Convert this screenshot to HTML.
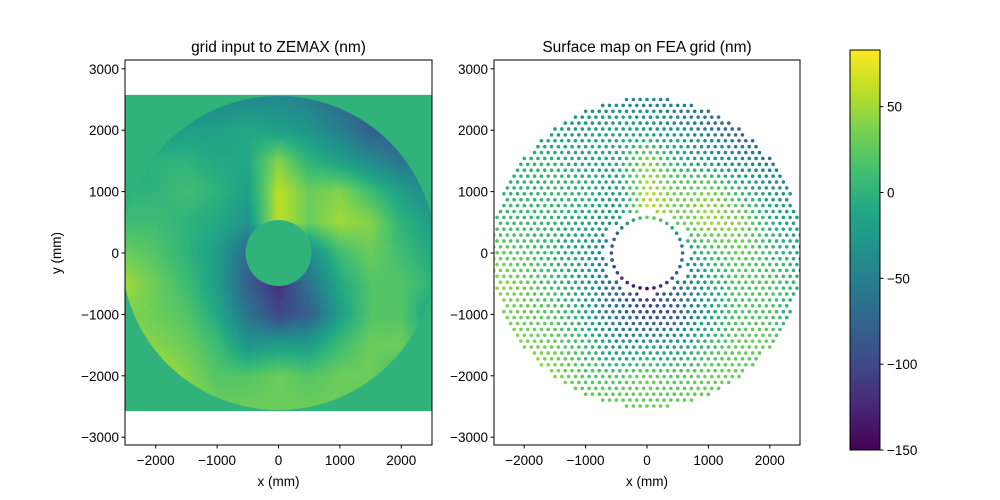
<!DOCTYPE html>
<html><head><meta charset="utf-8"><style>
body{margin:0;background:#fff;}
svg{display:block;font-family:"Liberation Sans","DejaVu Sans",sans-serif;}
</style></head><body>
<svg id="fig" width="1000" height="500" viewBox="0 0 1000 500">
<defs>
<clipPath id="clipL"><rect x="125" y="60" width="307" height="385"/></clipPath>
<clipPath id="clipR"><rect x="494" y="60" width="306" height="385"/></clipPath>
<clipPath id="clipAnn"><path clip-rule="evenodd" d="M278.5,253 m-157,0 a157,157 0 1,0 314,0 a157,157 0 1,0 -314,0 Z M278.5,253 m-33,0 a33,33 0 1,0 66,0 a33,33 0 1,0 -66,0 Z"/></clipPath>
<linearGradient id="cbgrad" x1="0" y1="1" x2="0" y2="0">
<stop offset="0" stop-color="#440154"/><stop offset="0.1" stop-color="#482475"/><stop offset="0.2" stop-color="#414487"/><stop offset="0.3" stop-color="#355f8d"/><stop offset="0.4" stop-color="#2a788e"/><stop offset="0.5" stop-color="#21918c"/><stop offset="0.6" stop-color="#22a884"/><stop offset="0.7" stop-color="#44bf70"/><stop offset="0.8" stop-color="#7ad151"/><stop offset="0.9" stop-color="#bddf26"/><stop offset="1" stop-color="#fde725"/>
</linearGradient>
</defs>
<g clip-path="url(#clipL)"><g id="leftbg"></g><g id="left" clip-path="url(#clipAnn)"></g></g>
<g id="right" clip-path="url(#clipR)"></g>
<g id="axes"></g>
<rect x="850" y="50" width="30" height="400" fill="url(#cbgrad)" stroke="#000" stroke-width="1"/>
<text x="278.5" y="52" font-size="15.5" text-anchor="middle">grid input to ZEMAX (nm)</text>
<text x="647" y="52" font-size="15.5" text-anchor="middle">Surface map on FEA grid (nm)</text>
<text x="278.5" y="486" font-size="13.5" text-anchor="middle">x (mm)</text>
<text x="647" y="486" font-size="13.5" text-anchor="middle">x (mm)</text>
<text x="61" y="253" font-size="13.5" text-anchor="middle" transform="rotate(-90 61 253)">y (mm)</text>
</svg>
<script>
// coarse surface values (nm), rows top (y=2500) to bottom (y=-2500), cols x=-2500..2500 step 500
const gridX = [-2500,-2000,-1500,-1000,-500,0,500,1000,1500,2000,2500];
const gridY = [2500,2000,1500,1000,500,0,-500,-1000,-1500,-2000,-2500];
const surfaceValues = [
[-40,-40,-40,-40,-40,-40,-50,-70,-80,-70,-60],
[-30,-30,-20,-20,-10,-20,-30,-50,-80,-80,-60],
[-10,0,0,-10,-10,40,0,-20,-40,-60,-50],
[0,0,10,0,-20,60,30,40,10,-20,-40],
[10,10,0,-10,-30,60,30,50,40,0,-20],
[30,20,0,-20,-70,0,-40,10,30,10,-10],
[50,30,10,-20,-80,-120,-60,-10,20,20,0],
[40,30,20,-10,-60,-100,-80,-20,20,20,-20],
[50,40,30,10,-30,-20,-20,10,30,30,0],
[60,60,40,20,20,30,20,30,30,10,0],
[50,60,50,30,30,30,30,30,20,10,0]];
const xTicks = [-2000,-1000,0,1000,2000];
const yTicks = [-3000,-2000,-1000,0,1000,2000,3000];
const cbTicks = [50,0,-50,-100,-150];
const vmin=-150, vmax=83;
const fillValue = 0;
const NS='http://www.w3.org/2000/svg';
const vir=['#440154','#482475','#414487','#355f8d','#2a788e','#21918c','#22a884','#44bf70','#7ad151','#bddf26','#fde725'].map(h=>[1,3,5].map(i=>parseInt(h.substr(i,2),16)));
function cmap(v){let t=Math.max(0,Math.min(1,(v-vmin)/(vmax-vmin)))*10;let i=Math.min(9,Math.floor(t)),f=t-i;
 const c=vir[i].map((a,k)=>Math.round(a+(vir[i+1][k]-a)*f));return `rgb(${c[0]},${c[1]},${c[2]})`;}
function sample(x,y){let fx=(x+2500)/500,fy=(2500-y)/500;fx=Math.max(0,Math.min(9.999,fx));fy=Math.max(0,Math.min(9.999,fy));
 const i=Math.floor(fx),j=Math.floor(fy),a=fx-i,b=fy-j,s=surfaceValues;
 return s[j][i]*(1-a)*(1-b)+s[j][i+1]*a*(1-b)+s[j+1][i]*(1-a)*b+s[j+1][i+1]*a*b;}
const sc=307/5000;
function xL(v){return 278.5+v*sc;} function xR(v){return 647+v*sc;} function yP(v){return 253-v*sc;}
function el(tag,attrs,parent){const e=document.createElementNS(NS,tag);for(const k in attrs)e.setAttribute(k,attrs[k]);parent.appendChild(e);return e;}
// left heatmap
const L=document.getElementById('left');
const bg=el('rect',{x:125,y:yP(2575),width:307,height:yP(-2575)-yP(2575),fill:cmap(fillValue)},document.getElementById('leftbg'));


const step=40;
for(let y=2560;y>-2560;y-=step){for(let x=-2560;x<2560;x+=step){
 const cx=x+step/2,cy=y-step/2,r=Math.hypot(cx,cy);if(r>2620||r<480)continue;
 const c=el('rect',{x:xL(x).toFixed(2),y:yP(y).toFixed(2),width:(step*sc+0.4).toFixed(2),height:(step*sc+0.4).toFixed(2),fill:cmap(sample(cx,cy))},L);
 
 
}}
// right scatter on hex grid
const R=document.getElementById('right');
const pitch=111,rowH=96;
for(let k=0;k<=52;k++){const y=2500-k*rowH;const off=(k%2)?pitch/2:0;
 for(let n=-24;n<=24;n++){const x=n*pitch+off;const r=Math.hypot(x,y);if(r>2530||r<680)continue;
  const d=el('circle',{cx:xR(x).toFixed(2),cy:yP(y).toFixed(2),r:1.8,fill:cmap(sample(x,y))},R);
  
  
 }}
for(let a=0;a<32;a++){const t=a/32*2*Math.PI,x=580*Math.cos(t),y=580*Math.sin(t);
 const d=el('circle',{cx:xR(x).toFixed(2),cy:yP(y).toFixed(2),r:1.8,fill:cmap(sample(x,y)-30)},R);
 
 
}
// axes
const A=document.getElementById('axes');
[[125,'left',xL],[494,'right',xR]].forEach(([x0,nm,xf])=>{
 const f=el('rect',{x:x0,y:60,width:(nm=='left'?307:306),height:385,fill:'none',stroke:'#000','stroke-width':1},A);
 
 
 xTicks.forEach(v=>{const px=xf(v);el('line',{x1:px,x2:px,y1:445,y2:448.5,stroke:'#000'},A);
  const t=el('text',{x:px,y:465,'font-size':13.5,'text-anchor':'middle'},A);t.textContent=(v<0?'\u2212':'')+Math.abs(v);
  
  });
 yTicks.forEach(v=>{const py=yP(v);el('line',{x1:x0,x2:x0-3.5,y1:py,y2:py,stroke:'#000'},A);
  const t=el('text',{x:x0-6,y:py+5,'font-size':13.5,'text-anchor':'end'},A);t.textContent=(v<0?'\u2212':'')+Math.abs(v);
  
  });
});
cbTicks.forEach(v=>{const py=450-(v-vmin)/(vmax-vmin)*400;el('line',{x1:880,x2:883.5,y1:py,y2:py,stroke:'#000'},A);
 const t=el('text',{x:887,y:py+5,'font-size':13.5},A);t.textContent=(v<0?'\u2212':'')+Math.abs(v);
 
 });
</script>
</body></html>
